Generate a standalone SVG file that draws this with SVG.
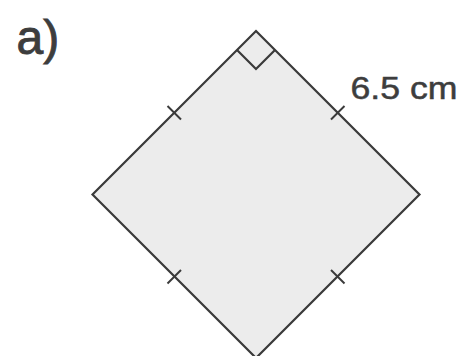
<svg xmlns="http://www.w3.org/2000/svg" width="464" height="356" viewBox="0 0 464 356">
<style>
.edge{fill:none;stroke:#3a3a3a;stroke-width:2.2;stroke-linejoin:miter}
.face{fill:#ececec;stroke:#3a3a3a;stroke-width:2.2;stroke-linejoin:miter}
.tick{stroke:#3a3a3a;stroke-width:2;fill:none}
.lbl{font-family:"Liberation Sans",Arial,sans-serif;fill:#3d3d3d;stroke:#3d3d3d}
</style>
<rect width="464" height="356" fill="#ffffff"/>
<g id="square">
<polygon points="256,31 419.5,194.5 256,358 92.5,194.5" class="face"/>
<polyline points="237,50 256,69 275,50" class="edge"/>
<line x1="167.5" y1="106" x2="181" y2="119.5" class="tick"/>
<line x1="331" y1="119.5" x2="344.5" y2="106" class="tick"/>
<line x1="167.5" y1="283.5" x2="181" y2="270" class="tick"/>
<line x1="331" y1="270" x2="344.5" y2="283.5" class="tick"/>
</g>
<g id="labels">
<text class="lbl" x="16.5" y="53.5" font-size="48" stroke-width="0.9">a)</text>
<text class="lbl" x="350.5" y="99" font-size="31" stroke-width="0.5" textLength="107" lengthAdjust="spacingAndGlyphs">6.5 cm</text>
</g>
</svg>
